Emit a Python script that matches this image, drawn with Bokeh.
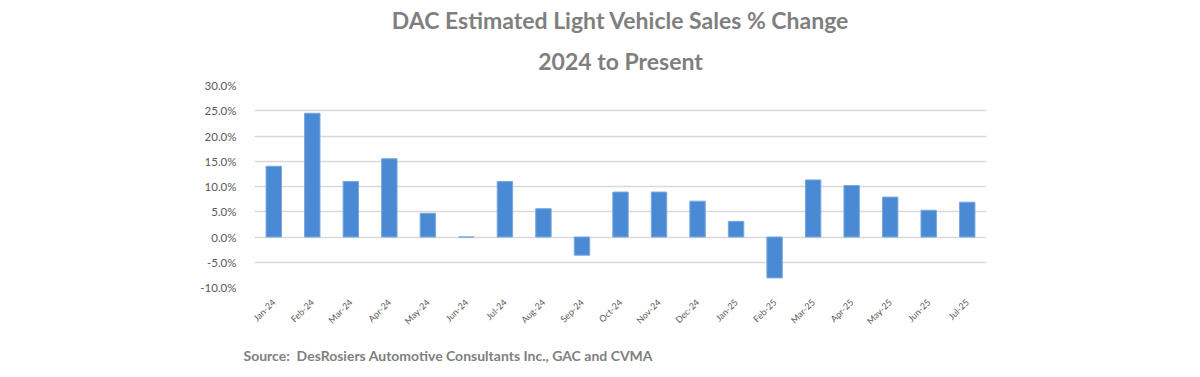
import numpy as np
from bokeh.plotting import figure
from bokeh.models import FixedTicker, Title, ColumnDataSource
from bokeh.embed import file_html
from bokeh.resources import INLINE
from math import pi

months = ["Jan-24", "Feb-24", "Mar-24", "Apr-24", "May-24", "Jun-24", "Jul-24", "Aug-24",
          "Sep-24", "Oct-24", "Nov-24", "Dec-24", "Jan-25", "Feb-25", "Mar-25", "Apr-25",
          "May-25", "Jun-25", "Jul-25"]
pct_change = [14.0, 24.5, 11.0, 15.5, 4.7, 0.0, 11.0, 5.6, -3.6, 8.9, 8.9, 7.1, 3.1, -8.1,
              11.3, 10.2, 7.9, 5.3, 6.9]
y_ticks = [-10, -5, 0, 5, 10, 15, 20, 25, 30]
y_tick_labels = ["-10.0%", "-5.0%", "0.0%", "5.0%", "10.0%", "15.0%", "20.0%", "25.0%", "30.0%"]
title_line1 = "DAC Estimated Light Vehicle Sales % Change"
title_line2 = "2024 to Present"
source_text = "Source:\u00a0 DesRosiers Automotive Consultants Inc., GAC and CVMA"

W, H = 1184, 374
FL, FT, FW, FH = 254, 85, 732, 202
p = figure(x_range=months, y_range=(-10, 30), width=W, height=H,
           output_backend="svg", toolbar_location=None,
           min_border_left=FL, min_border_right=W - FL - FW,
           min_border_top=FT, min_border_bottom=H - FT - FH)
p.outline_line_color = None
p.background_fill_color = "white"

src = ColumnDataSource(dict(m=months, v=pct_change))
p.vbar(x="m", top="v", bottom=0, width=0.4, source=src,
       fill_color="#4a89d3", line_color="#78a8de", line_width=1)

p.xgrid.grid_line_color = None
p.ygrid.grid_line_color = "#d9d9d9"
p.ygrid.grid_line_width = 1.5
p.yaxis.ticker = FixedTicker(ticks=y_ticks)
p.yaxis.major_label_overrides = {t: l for t, l in zip(y_ticks, y_tick_labels)}
for ax in (p.xaxis, p.yaxis):
    ax.axis_line_color = None
    ax.major_tick_line_color = None
    ax.minor_tick_line_color = None
    ax.major_label_text_color = "#595959"
    ax.major_label_text_font = "Lato"
p.yaxis.major_label_text_font_size = "11.5px"
p.yaxis.major_label_standoff = 12
p.xaxis.major_label_text_font_size = "9px"
p.xaxis.major_label_orientation = pi / 4
p.xaxis.major_label_standoff = 7

tkw = dict(text_font="Lato", text_font_style="bold", text_font_size="23px",
           text_color="#7f7f7f", align="center", offset=-20, text_line_height=0.8)
p.add_layout(Title(text=title_line2, standoff=22, **tkw), "above")
p.add_layout(Title(text=title_line1, standoff=0, **tkw), "above")
p.add_layout(Title(text=source_text, text_font="Lato", text_font_style="bold",
                   text_font_size="14px", text_color="#7f7f7f", align="left",
                   offset=-11, standoff=22), "below")

open("out.html", "w").write(file_html(p, INLINE))
